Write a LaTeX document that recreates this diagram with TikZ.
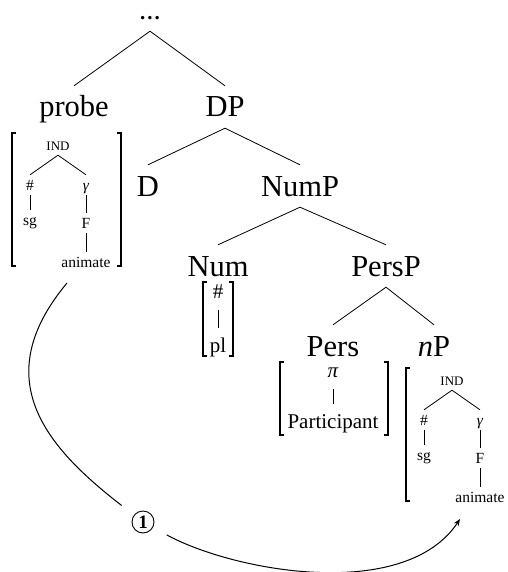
\documentclass[tikz,border=0pt]{standalone}
\usepackage{fontspec}
\setmainfont{Liberation Serif}
\usetikzlibrary{arrows.meta}
\tikzset{
  big/.style={inner sep=0pt, anchor=base, text height=31pt, text depth=11pt, font=\fontsize{30.5}{36}\selectfont},
  dotsf/.style={inner sep=0pt, anchor=base, text height=5pt, text depth=11pt, font=\fontsize{21}{22}\selectfont\bfseries},
  med/.style={inner sep=0pt, anchor=base, text height=24pt, text depth=12pt, font=\fontsize{21}{25}\selectfont},
  smallf/.style={inner sep=0pt, anchor=base, text height=15pt, text depth=5pt, font=\fontsize{15.5}{18}\selectfont},
  capf/.style={inner sep=0pt, anchor=base, text depth=5pt, font=\fontsize{13}{15}\selectfont},
  edge/.style={line width=0.8pt},
  vbar/.style={line width=0.8pt},
  brk/.style={line width=1.3pt},
  circ/.style={circle, draw, line width=0.9pt, minimum size=22pt, inner sep=0pt, outer sep=16pt, font=\fontsize{19}{22}\selectfont\bfseries},
  link/.style={line width=1pt},
}
\newcommand\FeatTree[3]{%
\begin{scope}[shift={(#2,#3)}]
\node[capf] (#1ind) at (58,150) {IND};
\node[smallf] (#1hash) at (30,190) {\#};
\node[smallf] (#1sg) at (30,225) {sg};
\node[smallf] (#1gam) at (86,190) {\itshape γ};
\node[smallf] (#1F) at (86,228) {F};
\node[smallf] (#1anim) at (86,267) {animate};
\draw[edge] (#1ind.south) -- (#1hash.north);
\draw[edge] (#1ind.south) -- (#1gam.north);
\draw[vbar] (#1hash.south) -- (#1sg.north);
\draw[vbar] (#1gam.south) -- (#1F.north);
\draw[vbar] (#1F.south) -- (#1anim.north);
\draw[brk] (16,133) -- (12,133) -- (12,266) -- (16,266);
\draw[brk] (117,133) -- (121,133) -- (121,266) -- (117,266);
\end{scope}}
\begin{document}
\begin{tikzpicture}[x=1pt,y=-1pt]
\useasboundingbox (0,0) rectangle (507,572);
\clip (0,0) rectangle (507,572);
% tree
\node[dotsf] (top) at (150,20) {.\kern2pt.\kern2pt.};
\node[big] (probe) at (74,117) {probe};
\node[big] (DP) at (225,117) {DP};
\node[big] (D) at (148,196) {D};
\node[big] (NumP) at (300,196) {NumP};
\node[big] (Num) at (218,276) {Num};
\node[big] (PersP) at (386,276) {PersP};
\node[big] (Pers) at (333,356) {Pers};
\node[big] (nP) at (434,356) {{\itshape n}P};
\draw[edge] (top.south) -- (probe.north);
\draw[edge] (top.south) -- (DP.north);
\draw[edge] (DP.south) -- (D.north);
\draw[edge] (DP.south) -- (NumP.north);
\draw[edge] (NumP.south) -- (Num.north);
\draw[edge] (NumP.south) -- (PersP.north);
\draw[edge] (PersP.south) -- (Pers.north);
\draw[edge] (PersP.south) -- (nP.north);
% probe features
\FeatTree{p}{0}{0}
% nP features
\FeatTree{n}{394}{235}
% Num features
\node[med] (numhash) at (218,298) {\#};
\node[med] (numpl) at (218,352) {pl};
\draw[vbar] (numhash.south) -- (numpl.north);
\draw[brk] (207,282) -- (203,282) -- (203,356) -- (207,356);
\draw[brk] (229,282) -- (233,282) -- (233,356) -- (229,356);
% Pers features
\node[med] (pi) at (333,377) {\itshape π};
\node[med] (part) at (333,428) {Participant};
\draw[vbar] (pi.south) -- (part.north);
\draw[brk] (284,362) -- (280,362) -- (280,435) -- (284,435);
\draw[brk] (384,362) -- (388,362) -- (388,435) -- (384,435);
% agreement link
\coordinate (pstart) at (67,283);
\coordinate (nend) at (460,519);
\node[circ] (one) at (143,522) {1};
\draw[link] (pstart) .. controls (-13,379) and (46,447) .. (one);
\draw[link,-{Stealth[length=7pt,width=5.5pt]}] (one) .. controls (235,572) and (405,602) .. (nend);
\end{tikzpicture}
\end{document}
